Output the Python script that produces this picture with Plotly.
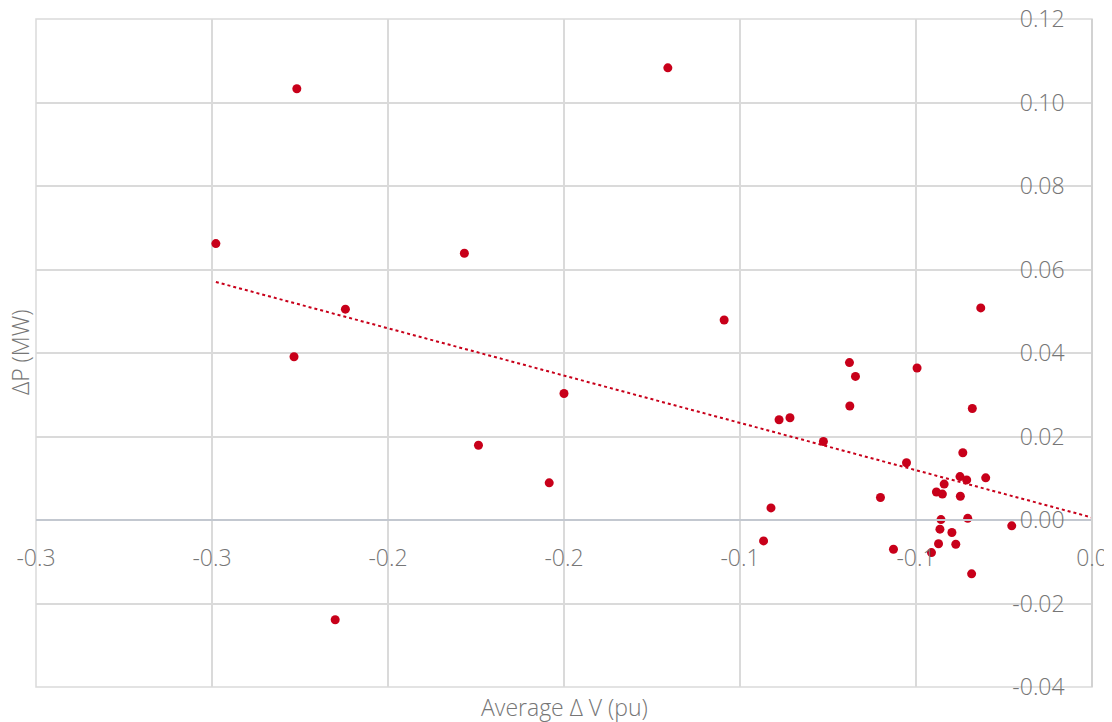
import numpy as np
import plotly.graph_objects as go

# Average ΔV (pu) vs ΔP (MW)
avg_dv = [
    -0.2489, -0.2259, -0.2121, -0.2267, -0.2150,
    -0.1783, -0.1743, -0.1542, -0.1500, -0.1205, -0.1045,
    -0.0316, -0.0689, -0.0497, -0.0672, -0.0688, -0.0340,
    -0.0889, -0.0858, -0.0763, -0.0367, -0.0527, -0.0375,
    -0.0356, -0.0302, -0.0420, -0.0442, -0.0425, -0.0374,
    -0.0601, -0.0912, -0.0429, -0.0353, -0.0228, -0.0432,
    -0.0398, -0.0933, -0.0436, -0.0387, -0.0564, -0.0456,
    -0.0342,
]
delta_p = [
    0.0662, 0.1033, 0.0505, 0.0391, -0.0239,
    0.0639, 0.0179, 0.0089, 0.0303, 0.1083, 0.0479,
    0.0508, 0.0377, 0.0364, 0.0344, 0.0273, 0.0267,
    0.0240, 0.0245, 0.0188, 0.0161, 0.0137, 0.0104,
    0.0096, 0.0101, 0.0086, 0.0067, 0.0062, 0.0057,
    0.0054, 0.0029, 0.0001, 0.0004, -0.0014, -0.0022,
    -0.0030, -0.0050, -0.0057, -0.0058, -0.0070, -0.0078,
    -0.0129,
]

x_range = [-0.3, 0.0]
y_range = [-0.04, 0.12]
x_tick_vals = [-0.30, -0.25, -0.20, -0.15, -0.10, -0.05, 0.0]
x_tick_text = ["-0.3", "-0.3", "-0.2", "-0.2", "-0.1", "-0.1", "0.0"]
y_tick_vals = [-0.04, -0.02, 0.0, 0.02, 0.04, 0.06, 0.08, 0.10, 0.12]
y_tick_text = ["-0.04", "-0.02", "0.00", "0.02", "0.04", "0.06", "0.08", "0.10", "0.12"]

RED = "#c8001a"
TEXT = "#767676"
GRID = "#dadada"
FONT = "Open Sans"
FSIZE = 23

# linear trendline, extended to the right edge of the axis
slope, icpt = np.polyfit(avg_dv, delta_p, 1)
trend_x = np.array([min(avg_dv), x_range[1]])
trend_y = slope * trend_x + icpt

fig = go.Figure()
fig.add_trace(go.Scatter(
    x=trend_x, y=trend_y, mode="lines",
    line=dict(color=RED, width=2, dash="dot"),
    hoverinfo="skip", showlegend=False,
))
fig.add_trace(go.Scatter(
    x=avg_dv, y=delta_p, mode="markers",
    marker=dict(color=RED, size=9),
    showlegend=False,
))

# x axis crosses the y axis at 0; y axis sits at x = 0 (right edge)
zero_pos = (0 - y_range[0]) / (y_range[1] - y_range[0])
tick_font = dict(family=FONT, size=FSIZE, color=TEXT, weight=300)

fig.update_xaxes(
    range=x_range, tickvals=x_tick_vals, ticktext=x_tick_text,
    anchor="free", position=zero_pos, automargin=False,
    ticklabeloverflow="allow",
    showline=True, linecolor="#c3c8d0", linewidth=1.5,
    showgrid=True, gridcolor=GRID, gridwidth=1.5, zeroline=False,
    ticks="", ticklabelstandoff=18, tickfont=tick_font,
)
fig.update_yaxes(
    range=y_range, tickvals=y_tick_vals, ticktext=y_tick_text,
    anchor="free", position=1, side="left", automargin=False,
    ticklabeloverflow="allow", ticklabelstandoff=22,
    showline=True, linecolor="#d2d2d2", linewidth=1.5,
    showgrid=True, gridcolor=GRID, gridwidth=1.5, zeroline=False,
    ticks="", tickfont=tick_font,
)

# plot frame
fig.add_shape(
    type="rect", xref="paper", yref="paper", x0=0, y0=0, x1=1, y1=1,
    line=dict(color=GRID, width=1.5), layer="below",
)

fig.add_annotation(
    text="ΔP (MW)", xref="paper", yref="paper", x=0, y=0.5,
    xanchor="center", yanchor="middle", xshift=-16, textangle=-90,
    showarrow=False, font=tick_font,
)
fig.add_annotation(
    text="Average Δ V (pu)", xref="paper", yref="paper", x=0.5, y=0,
    xanchor="center", yanchor="middle", yshift=-20,
    showarrow=False, font=tick_font,
)

# the page body has an 8px margin, so the figure starts at (8, 8)
fig.update_layout(
    width=1104, height=714,
    margin=dict(l=28, r=20, t=11, b=35),
    plot_bgcolor="white", paper_bgcolor="white",
)

fig.write_html("out.html")
